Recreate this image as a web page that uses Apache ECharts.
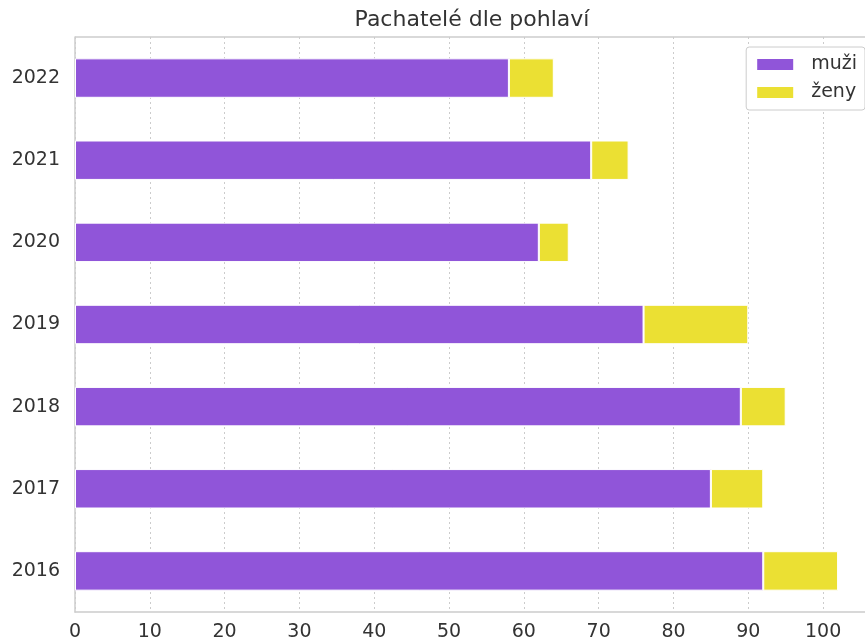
<!DOCTYPE html>
<html><head><meta charset="utf-8">
<script src="https://cdn.jsdelivr.net/npm/echarts@6/dist/echarts.min.js"></script>
<style>html,body{margin:0;padding:0;background:#fff}#c{width:865px;height:644px}</style>
</head><body><div id="c"></div>
<script>
const years = ['2016','2017','2018','2019','2020','2021','2022'];
const muzi = [92, 85, 89, 76, 62, 69, 58];
const zeny = [10, 7, 6, 14, 4, 5, 6];
const xTicks = [0,10,20,30,40,50,60,70,80,90,100];
const seriesNames = ['muži','ženy'];
const font = 'DejaVu Sans';
const chart = echarts.init(document.getElementById('c'));
chart.setOption({
  animation:false,
  textStyle:{fontFamily:font},
  title:{text:'Pachatelé dle pohlaví',left:467,top:4,textAlign:'center',
    textStyle:{fontFamily:font,fontSize:22,fontWeight:'normal',color:'#333'}},
  legend:{right:0,top:47,orient:'vertical',itemWidth:38,itemHeight:13,itemGap:9,
    padding:[8,8,8,9],borderColor:'#ccc',borderWidth:1,borderRadius:3,
    backgroundColor:'#fff',
    textStyle:{fontFamily:font,fontSize:19,color:'#333',padding:[0,0,0,12]},
    data:seriesNames.map(n=>({name:n,icon:'rect'}))},
  grid:{left:75,right:0,top:37,bottom:32,containLabel:false},
  xAxis:{type:'value',min:0,max:105.6,interval:10,
    axisLine:{show:true,lineStyle:{color:'#ccc',width:1.5}},
    axisTick:{show:false},
    axisLabel:{fontFamily:font,fontSize:19,color:'#333',margin:11,showMaxLabel:false,
      formatter:v=>xTicks.includes(v)?String(v):''},
    splitLine:{show:true,lineStyle:{color:'#ccc',type:[2,3],width:1}}},
  yAxis:{type:'category',data:years,
    axisLine:{show:true,lineStyle:{color:'#ccc',width:1.5}},
    axisTick:{show:false},
    axisLabel:{fontFamily:font,fontSize:19,color:'#333',margin:15},
    splitLine:{show:false}},
  series:[
    {name:seriesNames[0],type:'bar',stack:'a',data:muzi,barWidth:'48%',
      itemStyle:{color:'#9055d9',borderColor:'#fff',borderWidth:1}},
    {name:seriesNames[1],type:'bar',stack:'a',data:zeny,barWidth:'48%',
      itemStyle:{color:'#ebe033',borderColor:'#fff',borderWidth:1}},
    {type:'line',data:[],markLine:{silent:true,symbol:'none',label:{show:false},
      lineStyle:{color:'#ccc',type:'solid',width:1.5},data:[[{coord:[0,'2022'],y:37},{x:865,y:37}]]}}
  ]
});
</script></body></html>
